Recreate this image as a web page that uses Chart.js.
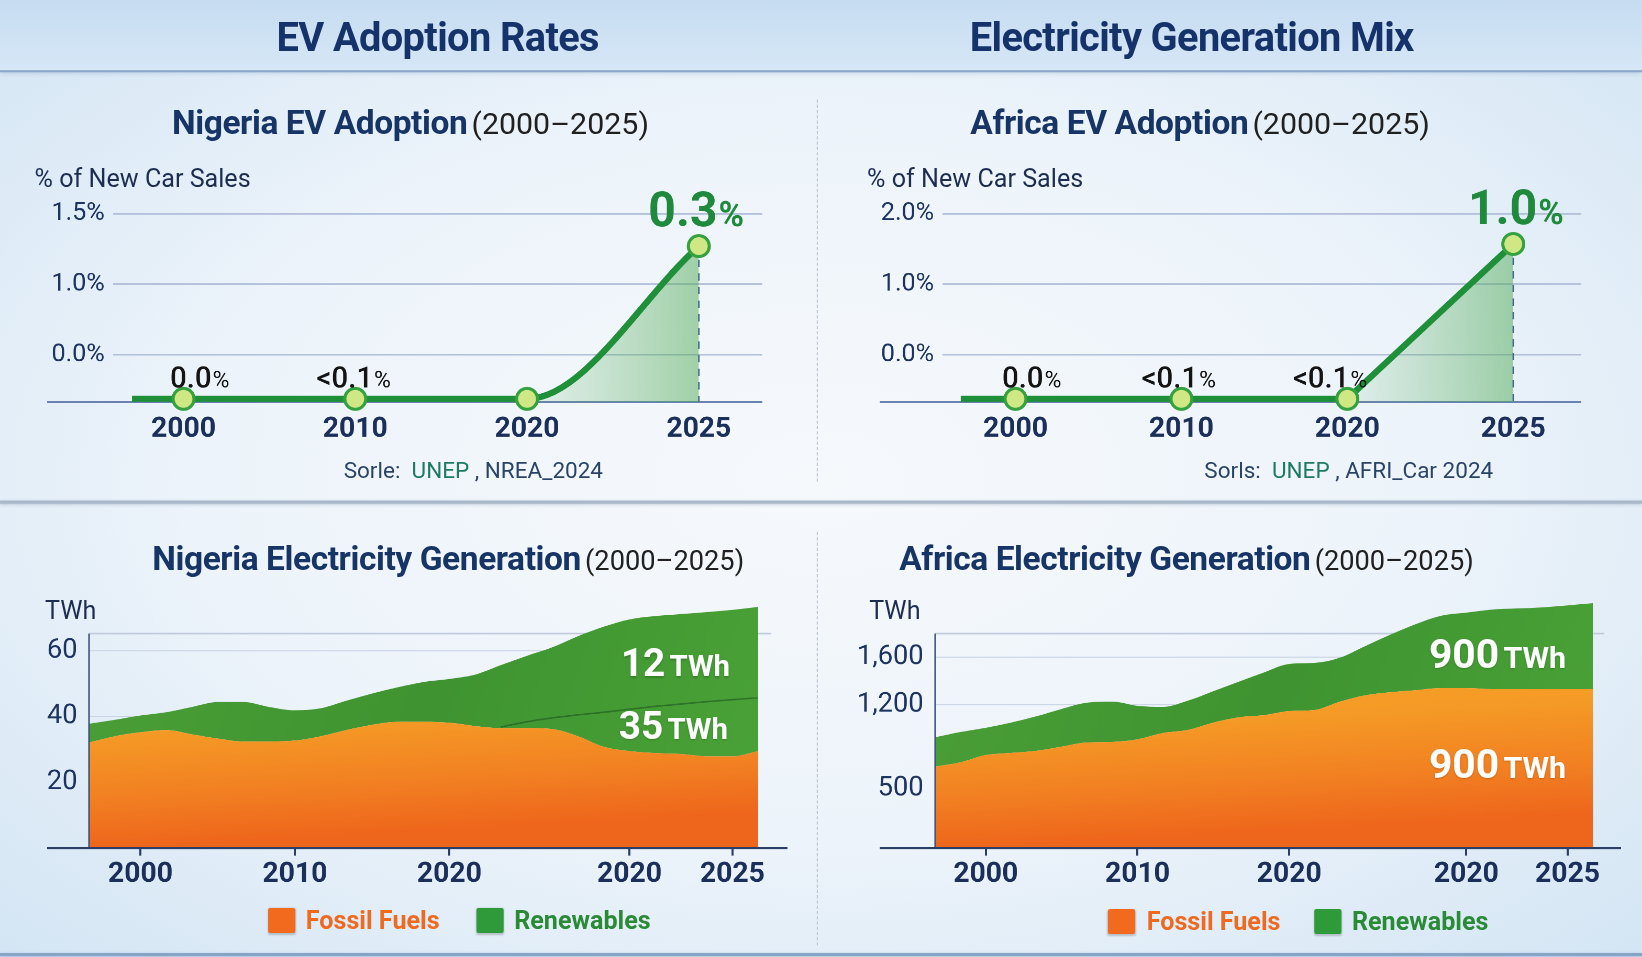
<!DOCTYPE html>
<html>
<head>
<meta charset="utf-8">
<title>EV Adoption Rates / Electricity Generation Mix</title>
<script src="https://cdn.jsdelivr.net/npm/chart.js"></script>
<style>
html, body { margin: 0; padding: 0; width: 1642px; height: 957px; overflow: hidden; }
body { background: radial-gradient(ellipse at 50% 50%, #f6f9fc 0%, #ecf3fa 55%, #d3e5f4 100%); font-family: Roboto, "Open Sans", sans-serif; }
#board { position: absolute; left: 0; top: 0; width: 1568px; height: 914px; transform: scale(1.0472); transform-origin: 0 0; }
.hdr { position: absolute; left: 0; top: 0; width: 1568px; height: 67px; background: linear-gradient(180deg, #c6dcf1 0%, #d6e7f6 100%); border-bottom: 2px solid #8ca6c9; box-shadow: 0 2px 4px rgba(90,120,160,0.25); }
.c { position: absolute; text-align: center; white-space: nowrap; }
.main { font-size: 38px; font-weight: 700; color: #15336a; line-height: 44px; letter-spacing: -0.6px; }
.sub { line-height: 38px; }
.sub b { font-size: 32px; font-weight: 700; color: #173466; letter-spacing: -0.4px; }
.sub span { font-size: 29px; font-weight: 400; color: #202020; }
.sub.low span { font-size: 26px; }
.unit { position: absolute; font-size: 24px; line-height: 28px; color: #1d2d50; white-space: nowrap; }
.src { font-size: 21.5px; line-height: 26px; color: #2b4466; }
.src i { font-style: normal; color: #1f7a62; }
.inlab { color: #fff; line-height: 44px; text-shadow: 0 1px 2px rgba(0,0,0,0.18); }
.inlab b { font-size: 37px; font-weight: 700; }
.inlab span { font-size: 28px; font-weight: 700; }
.inlab.big b { font-size: 39px; }
.inlab.big span { font-size: 29px; }
.sq { position: absolute; width: 26px; height: 24px; border-radius: 2px; box-shadow: 0 1px 2px rgba(0,0,0,0.2); }
.lg { position: absolute; font-size: 24px; font-weight: 700; line-height: 26px; white-space: nowrap; }
.rule { position: absolute; left: 0; width: 1568px; height: 3px; background: #a9b7ca; box-shadow: 0 1px 3px rgba(90,110,140,0.3); }
.vsep { position: absolute; left: 780px; width: 0; border-left: 1px dashed #b9c3d0; }
canvas { position: absolute; }
</style>
</head>
<body>
<div id="board">
  <div class="hdr"></div>
  <div class="c main" style="left:118px;width:600px;top:14px">EV Adoption Rates</div>
  <div class="c main" style="left:838px;width:600px;top:14px">Electricity Generation Mix</div>

  <div class="vsep" style="top:95px;height:365px"></div>
  <div class="rule" style="top:478px"></div>
  <div class="vsep" style="top:508px;height:395px"></div>
  <div class="rule" style="top:910px;background:#86a3c8"></div>

  <div class="c sub" style="left:92px;width:600px;top:98px"><b>Nigeria EV Adoption</b> <span>(2000–2025)</span></div>
  <div class="c sub" style="left:846px;width:600px;top:98px"><b>Africa EV Adoption</b> <span>(2000–2025)</span></div>
  <div class="unit" style="left:33px;top:157px">% of New Car Sales</div>
  <div class="unit" style="left:828px;top:157px">% of New Car Sales</div>
  <div class="c src" style="left:252px;width:400px;top:436px">Sorle:&nbsp; <i>UNEP</i> , NREA_2024</div>
  <div class="c src" style="left:1088px;width:400px;top:436px">Sorls:&nbsp; <i>UNEP</i> , AFRI_Car 2024</div>

  <div class="c sub low" style="left:128px;width:600px;top:514px"><b>Nigeria Electricity Generation</b> <span>(2000–2025)</span></div>
  <div class="c sub low" style="left:833px;width:600px;top:514px"><b>Africa Electricity Generation</b> <span>(2000–2025)</span></div>
  <div class="unit" style="left:43px;top:569px">TWh</div>
  <div class="unit" style="left:830px;top:569px">TWh</div>

  <canvas id="evNg" width="740" height="300" style="left:20px;top:150px"></canvas>
  <canvas id="evAf" width="750" height="300" style="left:790px;top:150px"></canvas>
  <canvas id="genNg" width="740" height="316" style="left:20px;top:544px"></canvas>
  <canvas id="genAf" width="770" height="316" style="left:790px;top:544px"></canvas>

  <div class="c inlab" style="left:545px;width:200px;top:612px"><b>12</b> <span>TWh</span></div>
  <div class="c inlab" style="left:543px;width:200px;top:672px"><b>35</b> <span>TWh</span></div>
  <div class="c inlab big" style="left:1330px;width:200px;top:603px"><b>900</b> <span>TWh</span></div>
  <div class="c inlab big" style="left:1330px;width:200px;top:708px"><b>900</b> <span>TWh</span></div>

  <div class="sq" style="left:256px;top:867px;background:#f26a1e"></div>
  <div class="lg" style="left:292px;top:866px;color:#ee6a20">Fossil Fuels</div>
  <div class="sq" style="left:455px;top:867px;background:#2f9a3a"></div>
  <div class="lg" style="left:491px;top:866px;color:#2a8a36">Renewables</div>
  <div class="sq" style="left:1058px;top:868px;background:#f26a1e"></div>
  <div class="lg" style="left:1095px;top:867px;color:#ee6a20">Fossil Fuels</div>
  <div class="sq" style="left:1255px;top:868px;background:#2f9a3a"></div>
  <div class="lg" style="left:1291px;top:867px;color:#2a8a36">Renewables</div>
</div>

<script>
const evYears = ['2000', '2010', '2020', '2025'];
const evPos = [0, 1, 2, 3];
const evTickLevels = [0, 1, 2];
const nigeriaEvTicks = ['0.0%', '1.0%', '1.5%'];
const africaEvTicks = ['0.0%', '1.0%', '2.0%'];
const nigeriaEv = [-0.62, -0.62, -0.62, 1.54];
const africaEv = [-0.62, -0.62, -0.62, 1.57];
const nigeriaEvLabels = ['0.0%', '<0.1%', '', '0.3%'];
const africaEvLabels = ['0.0%', '<0.1%', '<0.1%', '1.0%'];
const nigeriaLeadIn = -0.30;
const africaLeadIn = -0.33;

// electricity generation (TWh), stacked: fossil + renewables
const genLabels = ['', '', '2000', '', '', '', '', '', '2010', '', '', '', '', '', '2020', '', '', '', '', '', '', '2020', '', '', '', '2025', ''];
const nigeriaFossil = [32.1, 34.0, 35.2, 35.9, 34.6, 33.3, 32.4, 32.4, 32.7, 34.0, 35.9, 37.5, 38.4, 38.4, 38.1, 37.1, 36.5, 36.5, 36.2, 34.0, 30.8, 29.5, 28.9, 28.6, 27.9, 27.9, 29.5];
const nigeriaRenew = [5.7, 5.0, 5.1, 5.4, 8.3, 11.1, 12.0, 10.5, 9.2, 8.5, 8.9, 9.5, 10.5, 12.1, 13.3, 15.6, 19.1, 21.9, 24.8, 30.4, 36.5, 40.0, 41.6, 42.5, 43.8, 44.5, 43.8];
const nigeriaSplit = [null, null, null, null, null, null, null, null, null, null, null, null, null, null, null, null, 36.8, 38.4, 39.6, 40.5, 41.3, 42.2, 43.1, 43.8, 44.5, 45.1, 45.7];
const africaFossil = [684, 719, 780, 798, 815, 850, 885, 890, 912, 964, 990, 1052, 1096, 1113, 1148, 1157, 1227, 1280, 1306, 1323, 1341, 1341, 1332, 1332, 1332, 1332, 1332];
const africaRenew = [245, 254, 228, 254, 289, 316, 333, 337, 280, 219, 246, 263, 298, 359, 395, 394, 368, 412, 482, 553, 605, 631, 666, 675, 684, 701, 719];
const nigeriaGenTicks = [20, 40, 60];
const nigeriaGenTickLabels = ['20', '40', '60'];
const africaGenTicks = [500, 1200, 1600];
const africaGenTickLabels = ['500', '1,200', '1,600'];

Chart.defaults.font.family = 'Roboto, "Open Sans", sans-serif';
Chart.defaults.animation = false;

const navy = '#1b2f5a';

const evMarks = {
  id: 'evMarks',
  beforeDatasetsDraw(chart, args, opts) {
    const ctx = chart.ctx;
    const a = chart.chartArea;
    const pts = chart.getDatasetMeta(0).data;
    const last = pts[pts.length - 1];
    ctx.save();
    ctx.strokeStyle = '#6a82b0';
    ctx.lineWidth = 2;
    ctx.beginPath();
    ctx.moveTo(opts.baseFrom, a.bottom);
    ctx.lineTo(a.right, a.bottom);
    ctx.stroke();
    ctx.setLineDash([7, 6]);
    ctx.strokeStyle = '#3f5f96';
    ctx.lineWidth = 1.5;
    ctx.beginPath();
    ctx.moveTo(last.x, last.y);
    ctx.lineTo(last.x, a.bottom);
    ctx.stroke();
    ctx.restore();
  },
  afterDatasetsDraw(chart, args, opts) {
    const ctx = chart.ctx;
    const pts = chart.getDatasetMeta(0).data;
    ctx.save();
    ctx.textBaseline = 'alphabetic';
    opts.labels.forEach((txt, i) => {
      if (!txt) return;
      const p = pts[i + 1];
      const big = i === opts.labels.length - 1;
      const main = txt.replace('%', '');
      const mainFont = big ? 'bold 46px Roboto' : '500 28px Roboto';
      const pctFont = big ? 'bold 33px Roboto' : '22px Roboto';
      ctx.font = mainFont;
      const w1 = ctx.measureText(main).width;
      ctx.font = pctFont;
      const w2 = ctx.measureText('%').width;
      const cx = p.x + opts.shift[i];
      const by = big ? p.y - 19 : p.y - 11;
      const x = cx - (w1 + w2) / 2;
      ctx.fillStyle = big ? '#1f8a3b' : '#141414';
      ctx.font = mainFont;
      ctx.fillText(main, x, by);
      ctx.font = pctFont;
      ctx.fillText('%', x + w1 + 1, by);
    });
    ctx.restore();
  }
};

function makeEvChart(id, values, labels, shift, tickLabels, leadIn, xMin, xMax, yWidth, padRight, baseFrom, smooth) {
  const pts = [{ x: leadIn, y: values[0] }].concat(evPos.map((p, i) => ({ x: p, y: values[i] })));
  new Chart(document.getElementById(id), {
    type: 'line',
    data: {
      datasets: [{
        data: pts,
        borderColor: '#1f8f3a',
        borderWidth: 6,
        cubicInterpolationMode: smooth ? 'monotone' : 'default',
        tension: 0,
        pointRadius: ctx => ctx.dataIndex === 0 ? 0 : 10,
        pointBackgroundColor: '#cfe784',
        pointBorderColor: '#35a23f',
        pointBorderWidth: 3,
        clip: false,
        fill: 'start',
        backgroundColor: 'rgba(0,0,0,0)',
        segment: {
          backgroundColor: ctx => {
            if (ctx.p1DataIndex !== pts.length - 1) return 'rgba(0,0,0,0)';
            const ch = ctx.chart;
            if (!ch.chartArea) return 'rgba(0,0,0,0)';
            const xs = ch.scales.x;
            const g = ch.ctx.createLinearGradient(xs.getPixelForValue(evPos[2]), 0, xs.getPixelForValue(evPos[3]), 0);
            g.addColorStop(0, 'rgba(90,175,95,0.08)');
            g.addColorStop(1, 'rgba(80,170,85,0.5)');
            return g;
          }
        }
      }]
    },
    options: {
      responsive: false,
      devicePixelRatio: 2,
      layout: { padding: { left: 0, top: 54, right: padRight, bottom: 0 } },
      plugins: { legend: { display: false }, tooltip: { enabled: false }, evMarks: { labels: labels, shift: shift, baseFrom: baseFrom } },
      scales: {
        x: {
          type: 'linear', min: xMin, max: xMax,
          afterBuildTicks: s => { s.ticks = evPos.map(v => ({ value: v })); },
          afterFit: s => { s.height = 66; },
          grid: { display: false, drawTicks: false },
          border: { display: false },
          ticks: { padding: 10, color: navy, font: { size: 27, weight: 'bold' }, callback: (v, i) => evYears[i] }
        },
        y: {
          min: -0.667, max: 2,
          afterBuildTicks: s => { s.ticks = evTickLevels.map(v => ({ value: v })); },
          afterFit: s => { s.width = yWidth; },
          grid: { color: '#b4c1da', lineWidth: 1.5, drawTicks: false },
          border: { display: false },
          ticks: { padding: 8, color: '#1d3461', font: { size: 24 }, callback: (v, i) => tickLabels[i] }
        }
      }
    },
    plugins: [evMarks]
  });
}

// baseline, frame top and y axis line (the axis starts at the frame, below the unit label)
const genMarks = {
  id: 'genMarks',
  beforeDatasetsDraw(chart, args, opts) {
    const ctx = chart.ctx;
    const a = chart.chartArea;
    ctx.save();
    ctx.strokeStyle = '#bfcbdc';
    ctx.lineWidth = 1.5;
    ctx.beginPath();
    ctx.moveTo(a.left, opts.frameTop);
    ctx.lineTo(opts.baseTo - 16, opts.frameTop);
    ctx.stroke();
    ctx.restore();
  },
  afterDatasetsDraw(chart, args, opts) {
    const ctx = chart.ctx;
    const a = chart.chartArea;
    ctx.save();
    ctx.strokeStyle = '#3d527e';
    ctx.lineWidth = 1.5;
    ctx.beginPath();
    ctx.moveTo(a.left, opts.frameTop);
    ctx.lineTo(a.left, a.bottom);
    ctx.stroke();
    ctx.strokeStyle = '#2c3e66';
    ctx.lineWidth = 2;
    ctx.beginPath();
    ctx.moveTo(opts.baseFrom, a.bottom);
    ctx.lineTo(opts.baseTo, a.bottom);
    ctx.stroke();
    ctx.restore();
  }
};

function fossilFill(ctx) {
  const ch = ctx.chart;
  const a = ch.chartArea;
  if (!a) return '#f38a24';
  const g = ch.ctx.createLinearGradient(a.left, a.top, a.left + (a.right - a.left) * 0.02, a.bottom);
  g.addColorStop(0, '#f7ab2a');
  g.addColorStop(0.55, '#f59a26');
  g.addColorStop(0.8, '#f28022');
  g.addColorStop(1, '#ee661c');
  return g;
}

function renewFill(ctx) {
  const ch = ctx.chart;
  const a = ch.chartArea;
  if (!a) return '#469c36';
  const g = ch.ctx.createLinearGradient(a.left, a.top, a.right, a.bottom);
  g.addColorStop(0, '#4c9f37');
  g.addColorStop(0.5, '#3f9431');
  g.addColorStop(1, '#4aa337');
  return g;
}

function makeGenChart(id, fossil, renew, split, ticks, tickLabels, yMax, yWidth, padRight, baseFrom, baseTo) {
  const datasets = [
    { label: 'Fossil Fuels', data: fossil, stack: 'gen', fill: 'origin', backgroundColor: fossilFill, borderWidth: 0, pointRadius: 0, cubicInterpolationMode: 'monotone' },
    { label: 'Renewables', data: renew, stack: 'gen', fill: '-1', backgroundColor: renewFill, borderWidth: 0, pointRadius: 0, cubicInterpolationMode: 'monotone' }
  ];
  if (split) {
    datasets.push({ data: split, stack: 'split', fill: false, borderColor: 'rgba(25,80,30,0.55)', borderWidth: 1.5, pointRadius: 0, cubicInterpolationMode: 'monotone', order: -1 });
  }
  new Chart(document.getElementById(id), {
    type: 'line',
    data: { labels: genLabels, datasets: datasets },
    options: {
      responsive: false,
      devicePixelRatio: 2,
      layout: { padding: { left: 0, top: 27, right: padRight, bottom: 0 } },
      plugins: { legend: { display: false }, tooltip: { enabled: false }, genMarks: { baseFrom: baseFrom, baseTo: baseTo, frameTop: 61 } },
      scales: {
        x: {
          afterFit: s => { s.height = 50; },
          grid: {
            drawOnChartArea: false, drawTicks: true, tickLength: 7, lineWidth: 2,
            color: ctx => (ctx.tick && ctx.tick.label) ? '#2c3e66' : 'rgba(0,0,0,0)'
          },
          border: { display: false },
          ticks: { autoSkip: false, maxRotation: 0, padding: 2, color: navy, font: { size: 27, weight: 'bold' } }
        },
        y: {
          stacked: true, min: 0, max: yMax,
          afterBuildTicks: s => { s.ticks = ticks.map(v => ({ value: v })); },
          afterFit: s => { s.width = yWidth; },
          grid: { color: '#c9d4e5', lineWidth: 1, drawTicks: false },
          border: { display: false },
          ticks: { padding: 11, color: '#1d3461', font: { size: 26 }, callback: (v, i) => tickLabels[i] }
        }
      }
    },
    plugins: [genMarks]
  });
}

makeEvChart('evNg', nigeriaEv, nigeriaEvLabels, [15, -2, 0, -3], nigeriaEvTicks, nigeriaLeadIn, -0.41, 3.37, 88, 32, 25, true);
makeEvChart('evAf', africaEv, africaEvLabels, [15, -3, -17, 2], africaEvTicks, africaLeadIn, -0.44, 3.41, 110, 30, 50, false);
makeGenChart('genNg', nigeriaFossil, nigeriaRenew, nigeriaSplit, nigeriaGenTicks, nigeriaGenTickLabels, 76, 65, 36, 25, 732);
makeGenChart('genAf', africaFossil, africaRenew, null, africaGenTicks, africaGenTickLabels, 2095, 103, 39, 50, 758);
</script>
</body>
</html>
